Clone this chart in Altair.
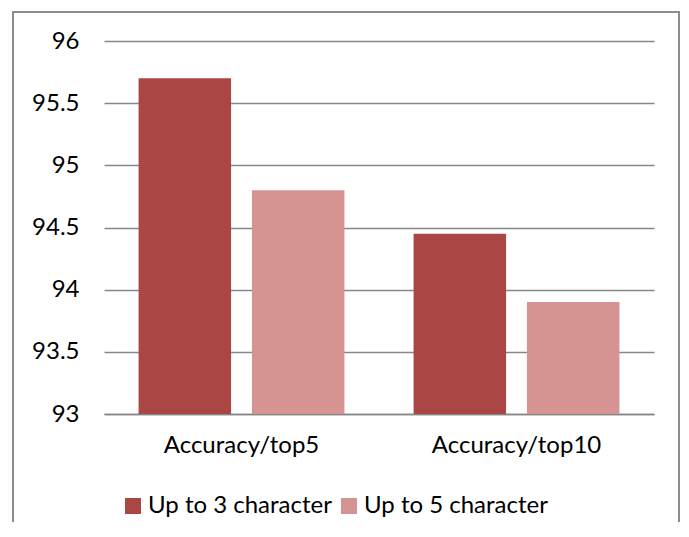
import altair as alt
import pandas as pd

categories = ["Accuracy/top5", "Accuracy/top10"]
series = ["Up to 3 character", "Up to 5 character"]
values_3 = [95.7, 94.45]
values_5 = [94.8, 93.9]
y_ticks = [93, 93.5, 94, 94.5, 95, 95.5, 96]
colors = ["#AA4643", "#D59391"]

rows = []
for i, c in enumerate(categories):
    rows.append({"category": c, "series": series[0], "value": values_3[i]})
    rows.append({"category": c, "series": series[1], "value": values_5[i]})
df = pd.DataFrame(rows)

FONT = "Lato"
FS = 24
GRID = "#878787"

bars = alt.Chart(df).mark_bar(clip=True).encode(
    x=alt.X("category:N", sort=categories, title=None,
            scale=alt.Scale(paddingInner=0, paddingOuter=0),
            axis=alt.Axis(labelAngle=0, labelFontSize=FS, labelFont=FONT,
                          labelColor="#000000", ticks=False, domain=True,
                          domainColor=GRID, domainWidth=1.5, labelPadding=19)),
    xOffset=alt.XOffset("series:N", sort=series,
                        scale=alt.Scale(paddingInner=0.184, paddingOuter=0.305)),
    y=alt.Y("value:Q", title=None,
            scale=alt.Scale(domain=[93, 96], zero=False, nice=False),
            axis=alt.Axis(values=y_ticks, format="~g", labelFontSize=FS,
                          labelFont=FONT, labelColor="#000000", ticks=False,
                          domain=False, grid=True, gridColor=GRID,
                          gridWidth=1.5, labelPadding=25)),
    color=alt.Color("series:N", sort=series,
                    scale=alt.Scale(domain=series, range=colors),
                    legend=alt.Legend(title=None, orient="none", direction="horizontal",
                                      legendX=17, legendY=453,
                                      symbolType="square", symbolSize=256,
                                      symbolStrokeWidth=0, labelFontSize=FS,
                                      labelFont=FONT, labelColor="#000000",
                                      labelOffset=3, columnPadding=5,
                                      labelLimit=0)),
)

border = alt.Chart(pd.DataFrame({"k": [0]})).mark_rect(
    fill=None, stroke="#8C8C8C", strokeWidth=2, clip=False
).encode(
    x=alt.value(-91), x2=alt.value(575), y=alt.value(-29), y2=alt.value(700)
)

chart = alt.layer(border, bars).properties(
    width=550, height=373,
    autosize=alt.AutoSizeParams(type="none"),
    padding={"left": 96, "top": 33, "right": 27, "bottom": 108},
).configure_view(stroke=None)

chart.save("out.html", embed_options={"renderer": "svg", "actions": False})
